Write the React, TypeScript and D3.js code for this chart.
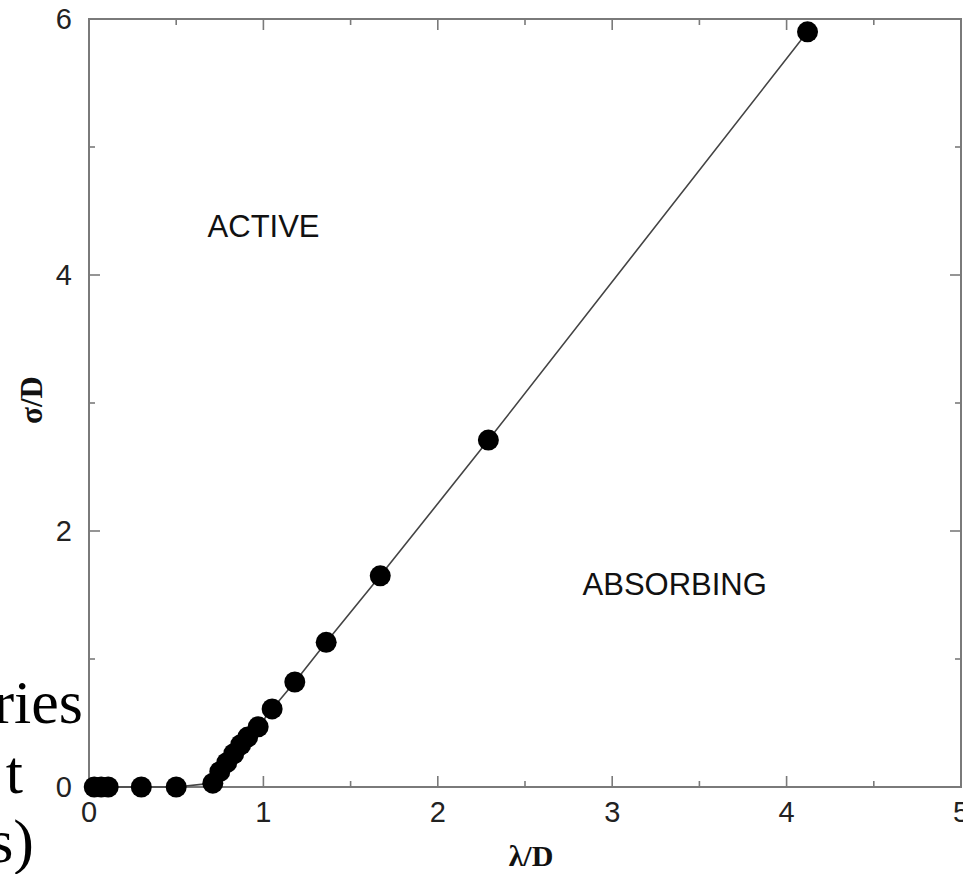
import React from 'react'
import * as d3 from 'd3'

// phase boundary points: lambda/D vs sigma/D
const lambdaD = [0.03, 0.07, 0.11, 0.3, 0.5, 0.71, 0.75, 0.79, 0.83, 0.87, 0.91, 0.97, 1.05, 1.18, 1.36, 1.67, 2.29, 4.12]
const sigmaD = [0, 0, 0, 0, 0, 0.03, 0.12, 0.19, 0.26, 0.33, 0.39, 0.47, 0.61, 0.82, 1.13, 1.65, 2.71, 5.9]

const xMajor = [0, 1, 2, 3, 4, 5]
const xMinor = [0.5, 1.5, 2.5, 3.5, 4.5]
const yMajor = [0, 2, 4, 6]
const yMinor = [1, 3, 5]

const regionLabels = [
  { text: 'ACTIVE', x: 0.68, y: 4.3 },
  { text: 'ABSORBING', x: 2.83, y: 1.5 },
]

const sideText = [
  { text: 'tries', x: 83, y: 723 },
  { text: 't', x: 23, y: 793 },
  { text: 's)', x: 34, y: 862 },
]

const W = 963
const H = 874
const frameColor = '#7a7a7a'

const App = () => {
  const x = d3.scaleLinear().domain([0, 5]).range([89, 961])
  const y = d3.scaleLinear().domain([0, 6]).range([787, 19])

  const pts = lambdaD.map((d, i) => [d, sigmaD[i]] as [number, number])
  const line = d3
    .line<[number, number]>()
    .x((d) => x(d[0]))
    .y((d) => y(d[1]))

  const [x0, x1] = x.range()
  const [y0, y1] = y.range()
  const majorLen = 11
  const minorLen = 6

  return (
    <svg
      width={W}
      height={H}
      style={{ position: 'absolute', left: 0, top: 0, background: '#fff' }}
    >
      {/* frame */}
      <rect
        x={x0}
        y={y1}
        width={x1 - x0}
        height={y0 - y1}
        fill="none"
        stroke={frameColor}
        strokeWidth={2}
      />

      {/* ticks on all four sides, pointing inward */}
      {xMajor.concat(xMinor).map((v) => {
        const len = xMajor.includes(v) ? majorLen : minorLen
        return (
          <g key={'xt' + v} stroke={frameColor} strokeWidth={1.6}>
            <line x1={x(v)} x2={x(v)} y1={y0} y2={y0 - len} />
            <line x1={x(v)} x2={x(v)} y1={y1} y2={y1 + len} />
          </g>
        )
      })}
      {yMajor.concat(yMinor).map((v) => {
        const len = yMajor.includes(v) ? majorLen : minorLen
        return (
          <g key={'yt' + v} stroke={frameColor} strokeWidth={1.6}>
            <line x1={x0} x2={x0 + len} y1={y(v)} y2={y(v)} />
            <line x1={x1} x2={x1 - len} y1={y(v)} y2={y(v)} />
          </g>
        )
      })}

      {/* tick labels */}
      {xMajor.map((v) => (
        <text
          key={'xl' + v}
          x={x(v)}
          y={y0 + 35}
          textAnchor="middle"
          fontFamily="Liberation Sans, Arial, sans-serif"
          fontSize={29}
          fill="#222"
        >
          {v}
        </text>
      ))}
      {yMajor.map((v) => (
        <text
          key={'yl' + v}
          x={x0 - 17}
          y={y(v)}
          dy="0.36em"
          textAnchor="end"
          fontFamily="Liberation Sans, Arial, sans-serif"
          fontSize={29}
          fill="#222"
        >
          {v}
        </text>
      ))}

      {/* axis titles */}
      <text
        x={531}
        y={866}
        textAnchor="middle"
        fontFamily="Liberation Serif, Times New Roman, serif"
        fontWeight="bold"
        fontSize={30}
        fill="#111"
      >
        λ/D
      </text>
      <text
        transform="translate(42,400) rotate(-90)"
        textAnchor="middle"
        fontFamily="Liberation Serif, Times New Roman, serif"
        fontWeight="bold"
        fontSize={31}
        fill="#111"
      >
        σ/D
      </text>

      {/* phase boundary */}
      <path d={line(pts) ?? ''} fill="none" stroke="#444" strokeWidth={1.6} />
      {pts.map((d, i) => (
        <circle key={i} cx={x(d[0])} cy={y(d[1])} r={10.5} fill="#000" />
      ))}

      {/* region labels */}
      {regionLabels.map((l) => (
        <text
          key={l.text}
          x={x(l.x)}
          y={y(l.y)}
          textAnchor="start"
          fontFamily="Liberation Sans, Arial, sans-serif"
          fontSize={31}
          fill="#111"
        >
          {l.text}
        </text>
      ))}

      {/* overlapping slide text on the left */}
      {sideText.map((t) => (
        <text
          key={t.text}
          x={t.x}
          y={t.y}
          textAnchor="end"
          fontFamily="Liberation Serif, Times New Roman, serif"
          fontSize={62}
          fill="#000"
        >
          {t.text}
        </text>
      ))}
    </svg>
  )
}

export default App
